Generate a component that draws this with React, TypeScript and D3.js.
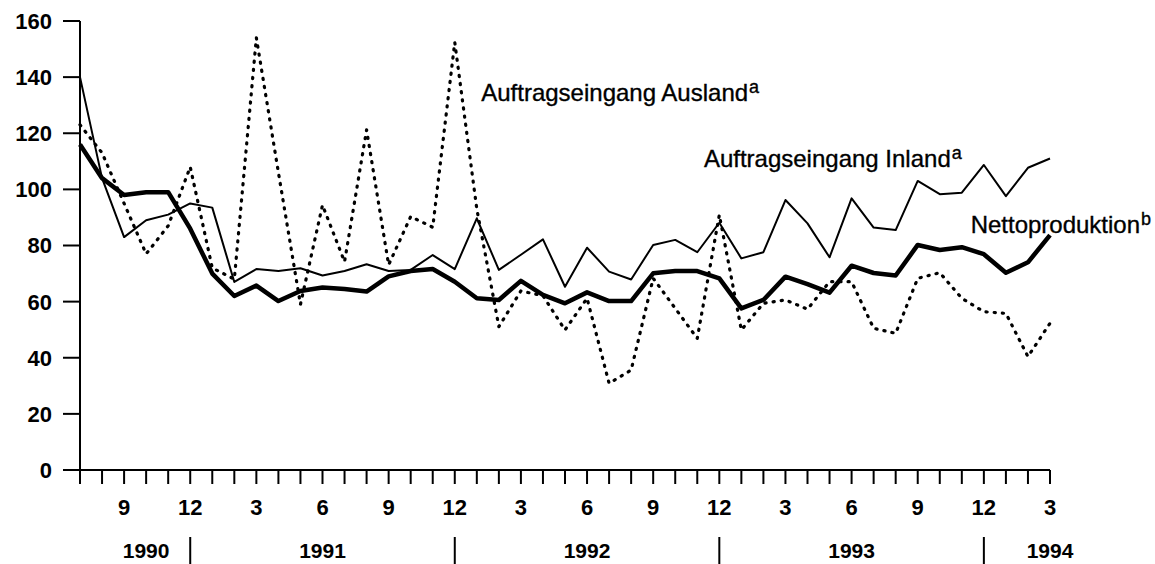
import * as d3 from "d3";

// Monat je Punkt (7/1990 ... 3/1994)
const months = [
  7, 8, 9, 10, 11, 12,
  1, 2, 3, 4, 5, 6, 7, 8, 9, 10, 11, 12,
  1, 2, 3, 4, 5, 6, 7, 8, 9, 10, 11, 12,
  1, 2, 3, 4, 5, 6, 7, 8, 9, 10, 11, 12,
  1, 2, 3,
];

const inland = [
  140, 104, 83, 89, 91, 95, 93.5, 67, 71.6, 70.9, 71.9, 69.3, 70.9, 73.3, 70.9,
  71.3, 76.6, 71.6, 89.7, 71.3, 76.7, 82.2, 65.3, 79.2, 70.7, 67.9, 80.2, 82,
  77.6, 88.1, 75.4, 77.6, 96.2, 87.9, 75.8, 96.8, 86.4, 85.5, 103, 98.3, 98.8,
  108.7, 97.6, 107.7, 111,
];

const ausland = [
  123, 113, 95, 77, 87, 108, 72, 68, 154, 106, 59, 94.4, 74.2, 121.2, 73.1,
  90.3, 86.5, 152.4, 93, 51.1, 63.8, 62.1, 49.9, 61.2, 30.9, 35.6, 68.3, 57.6,
  46.9, 90.9, 49.9, 59.4, 60.6, 57.3, 67.1, 67.1, 50.5, 48.7, 68.3, 70.3, 61.2,
  56.4, 55.8, 40.4, 52.3,
];

const netto = [
  116, 104, 98, 99, 99, 86, 70, 62, 65.7, 60.2, 63.8, 65, 64.5, 63.6, 69, 70.9,
  71.6, 67.1, 61.2, 60.6, 67.4, 62.4, 59.4, 63.3, 60.2, 60.2, 70.1, 70.9, 70.9,
  68.3, 57.6, 60.6, 68.9, 66.2, 63.2, 72.8, 70.2, 69.3, 80.2, 78.4, 79.4, 76.9,
  70.3, 74, 83.7,
];

const yTicks = [0, 20, 40, 60, 80, 100, 120, 140, 160];
const labeledMonths = [3, 6, 9, 12];
const years = ["1990", "1991", "1992", "1993", "1994"];
const yearLabelAt = [3, 11, 23, 35, 44]; // Index des Monats unter dem das Jahr steht
const yearBreaks = [5, 17, 29, 41]; // Dezember-Trennstriche

const W = 1155;
const H = 564;
const FONT = "'Liberation Sans', Arial, Helvetica, sans-serif";

const App = () => {
  const x = d3.scaleLinear().domain([0, months.length - 1]).range([80, 1050]);
  const y = d3.scaleLinear().domain([0, 160]).range([470, 21]);
  const line = d3
    .line<number>()
    .x((_, i) => x(i))
    .y((d) => y(d));

  const axisBottom = y(0);
  // Beschriftung etwas kräftiger, wie im Druck
  const labelStyle = { fontSize: 24, stroke: "#000", strokeWidth: 0.35 };

  return (
    <svg
      width={W}
      height={H}
      style={{ position: "absolute", left: 0, top: 0, background: "#fff" }}
      fontFamily={FONT}
    >
      {/* y-Achse */}
      <line x1={x(0)} x2={x(0)} y1={y(160)} y2={axisBottom + 14} stroke="#000" strokeWidth={2} />
      {yTicks.map((t) => (
        <g key={t}>
          <line x1={x(0) - 17} x2={x(0)} y1={y(t)} y2={y(t)} stroke="#000" strokeWidth={2} />
          <text
            x={x(0) - 28}
            y={y(t)}
            dy="0.36em"
            textAnchor="end"
            fontSize={22}
            fontWeight="bold"
          >
            {t}
          </text>
        </g>
      ))}

      {/* x-Achse */}
      <line x1={x(0)} x2={x(months.length - 1)} y1={axisBottom} y2={axisBottom} stroke="#000" strokeWidth={2} />
      {months.map((m, i) => (
        <g key={i}>
          <line x1={x(i)} x2={x(i)} y1={axisBottom} y2={axisBottom + 14} stroke="#000" strokeWidth={2} />
          {labeledMonths.includes(m) && (
            <text x={x(i)} y={515} textAnchor="middle" fontSize={22} fontWeight="bold">
              {m}
            </text>
          )}
        </g>
      ))}
      {yearBreaks.map((i) => (
        <line key={i} x1={x(i)} x2={x(i)} y1={537} y2={564} stroke="#000" strokeWidth={2} />
      ))}
      {years.map((yr, k) => (
        <text key={yr} x={x(yearLabelAt[k])} y={558} textAnchor="middle" fontSize={21} fontWeight="bold">
          {yr}
        </text>
      ))}

      {/* Linien */}
      <path
        d={line(ausland) ?? ""}
        fill="none"
        stroke="#000"
        strokeWidth={3.2}
        strokeDasharray="1.2 7"
        strokeLinecap="round"
        strokeLinejoin="round"
      />
      <path d={line(inland) ?? ""} fill="none" stroke="#000" strokeWidth={2} strokeLinejoin="round" />
      <path d={line(netto) ?? ""} fill="none" stroke="#000" strokeWidth={4.5} strokeLinejoin="round" />

      {/* Beschriftungen */}
      <text x={x(18.2)} y={y(131.5)} {...labelStyle}>
        Auftragseingang Ausland
        <tspan fontSize={18} dx={1} dy={-8}>a</tspan>
      </text>
      <text x={x(28.3)} y={y(108)} {...labelStyle}>
        Auftragseingang Inland
        <tspan fontSize={18} dx={1} dy={-8}>a</tspan>
      </text>
      <text x={x(40.4)} y={y(84.5)} {...labelStyle}>
        Nettoproduktion
        <tspan fontSize={18} dx={1} dy={-8}>b</tspan>
      </text>
    </svg>
  );
};

export default App;
